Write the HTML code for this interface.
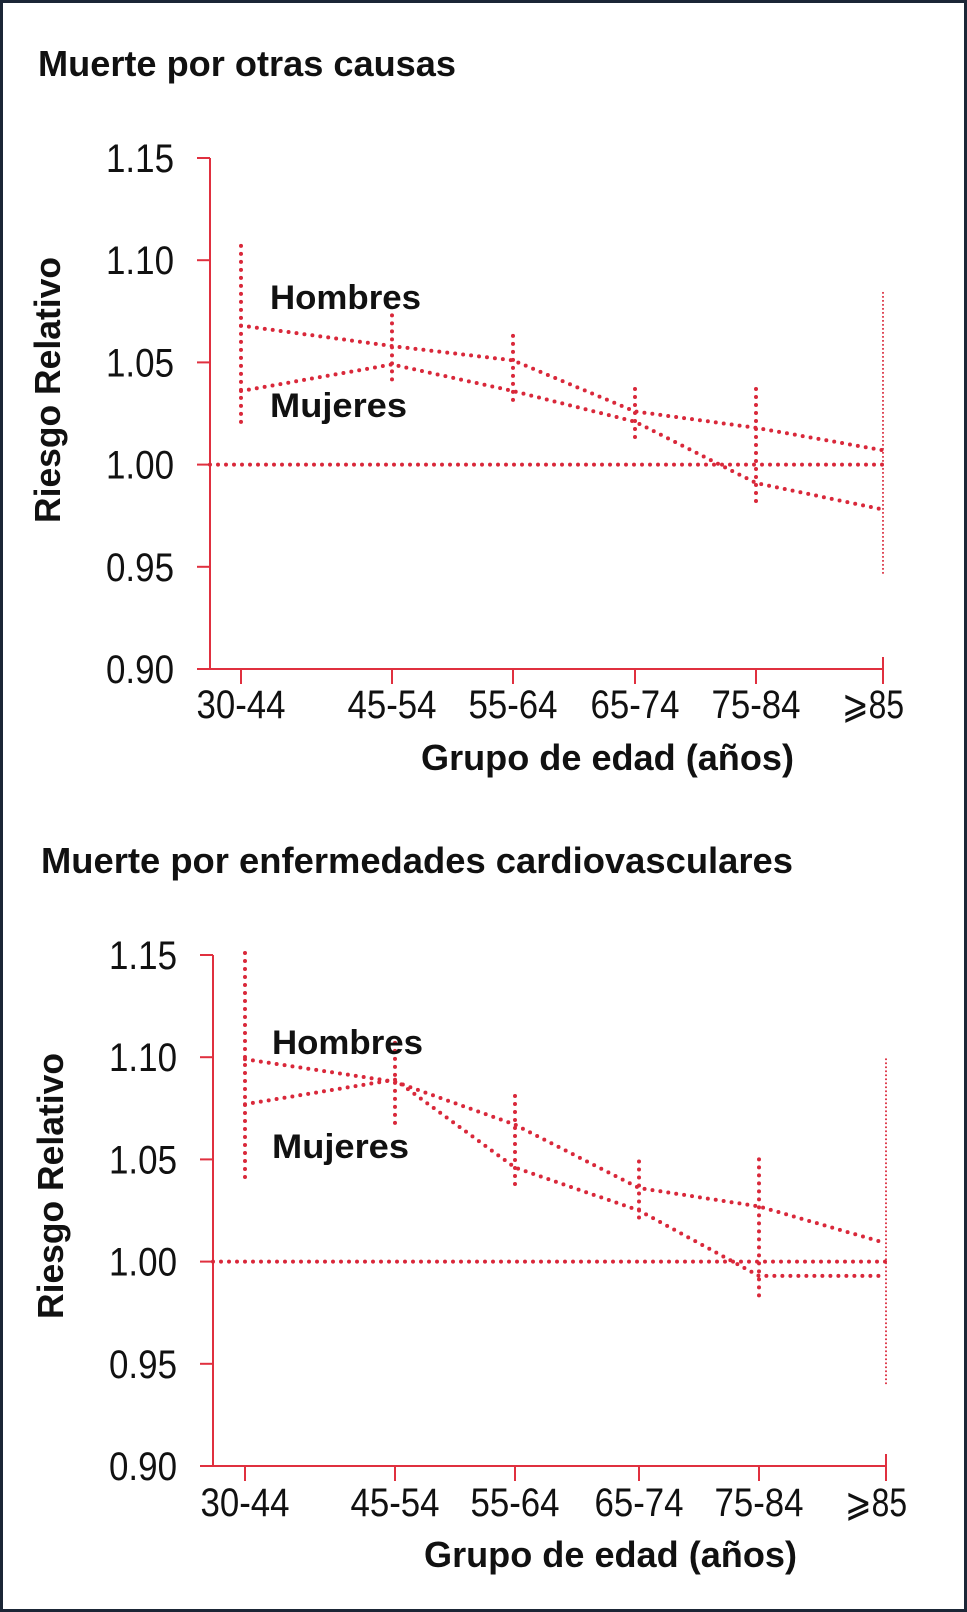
<!DOCTYPE html>
<html><head><meta charset="utf-8"><style>
html,body{margin:0;padding:0;background:#fff;}
svg{display:block;}
text{font-family:"Liberation Sans",sans-serif;fill:#111;}
.t{font-weight:bold;font-size:36px;}
.tick{font-size:40px;}
.lab{font-weight:bold;font-size:34px;}
</style></head><body>
<svg id="fig" width="967" height="1612" viewBox="0 0 967 1612" xmlns="http://www.w3.org/2000/svg">
<rect x="1.5" y="1.5" width="964" height="1609" fill="#fff" stroke="#1b2636" stroke-width="3"/>
</svg>
<script>
var categories = ["30-44","45-54","55-64","65-74","75-84","\u2a7e85"];
var yTicks = [0.90,0.95,1.00,1.05,1.10,1.15];
var yTickLabels = ["0.90","0.95","1.00","1.05","1.10","1.15"];
var topTitle = "Muerte por otras causas";
var topHombres = [1.068,1.058,1.051,1.026,1.018,1.007];
var topMujeres = [1.036,1.049,1.036,1.021,0.991,0.978];
var topCiHigh = [1.107,1.073,1.063,1.037,1.037,1.084];
var topCiLow = [1.020,1.041,1.031,1.011,0.980,0.947];
var botTitle = "Muerte por enfermedades cardiovasculares";
var botHombres = [1.099,1.088,1.067,1.036,1.027,1.009];
var botMujeres = [1.077,1.089,1.046,1.025,0.993,0.993];
var botCiHigh = [1.151,1.107,1.081,1.049,1.050,1.099];
var botCiLow = [1.041,1.065,1.037,1.018,0.983,0.939];

var NS="http://www.w3.org/2000/svg";
var svg=document.getElementById('fig');
var RED="#d9283a";
function mk(tag,attrs,parent){var e=document.createElementNS(NS,tag);for(var k in attrs)e.setAttribute(k,attrs[k]);(parent||svg).appendChild(e);return e;}

function panel(cfg,hom,muj,hi,lo,title){
  var g=mk('g',{});
  
  
  function y(v){return cfg.y090-(v-0.90)/0.25*(cfg.y090-cfg.y115);}
  function x(i){return cfg.xs[i];}
  var tt=mk('text',{x:cfg.titleX,y:cfg.titleY,'class':'t',textLength:cfg.titleW,lengthAdjust:'spacingAndGlyphs'},g);
  tt.textContent=title;
  
  
  var ya=mk('line',{x1:cfg.ax,y1:y(1.15),x2:cfg.ax,y2:y(0.90),stroke:"#e0303f",'stroke-width':2},g);
  
  
  var xa=mk('line',{x1:cfg.ax-13,y1:y(0.90),x2:x(5),y2:y(0.90),stroke:"#e0303f",'stroke-width':2},g);
  
  
  for(var i=0;i<yTicks.length;i++){
    var yy=y(yTicks[i]);
    var tk=mk('line',{x1:cfg.ax-13,y1:yy,x2:cfg.ax,y2:yy,stroke:"#e0303f",'stroke-width':2},g);
    
    
    var tl=mk('text',{x:cfg.ax-36,y:yy+14,'class':'tick','text-anchor':'end',textLength:68,lengthAdjust:'spacingAndGlyphs'},g);
    tl.textContent=yTickLabels[i];
    
    
  }
  for(var j=0;j<categories.length;j++){
    var xt=mk('line',{x1:x(j),y1:y(0.90)-(j==5?12:0),x2:x(j),y2:y(0.90)+15,stroke:"#e0303f",'stroke-width':2},g);
    
    
    var xl=mk('text',{x:x(j)-(j==5?10:0),y:cfg.xlabY,'class':'tick','text-anchor':'middle',textLength:j==5?62:89,lengthAdjust:'spacingAndGlyphs'},g);
    xl.textContent=categories[j];
    
    
  }
  var xtt=mk('text',{x:cfg.xtX,y:cfg.xtY,'class':'t',textLength:373,lengthAdjust:'spacingAndGlyphs'},g);
  xtt.textContent="Grupo de edad (años)";
  
  
  var ytt=mk('text',{x:0,y:0,'class':'t','text-anchor':'middle',textLength:266,lengthAdjust:'spacingAndGlyphs',transform:'translate('+(cfg.ytX)+','+cfg.ytY+') rotate(-90)'},g);
  ytt.textContent="Riesgo Relativo";
  
  
  var ref=mk('line',{x1:cfg.ax,y1:y(1.0),x2:x(5),y2:y(1.0),stroke:RED,'stroke-width':4,'stroke-linecap':'round','stroke-dasharray':'0 8'},g);
  
  
  for(var k=0;k<categories.length;k++){
    var last=(k==5);
    var ci=mk('line',{x1:x(k),y1:y(hi[k]),x2:x(k),y2:y(lo[k]),stroke:RED,'stroke-width':last?2:4,'stroke-linecap':'round','stroke-dasharray':last?'0 4':'0 8'},g);
    
    
  }
  function series(vals,name){
    var pts=vals.map(function(v,i){return x(i)+','+y(v);}).join(' ');
    var pl=mk('polyline',{points:pts,fill:'none',stroke:RED,'stroke-width':4,'stroke-linecap':'round','stroke-dasharray':'0 8'},g);
    
    
  }
  series(hom,'hombres-line');
  series(muj,'mujeres-line');
  var lh=mk('text',{x:cfg.labX,y:cfg.homY,'class':'lab',textLength:151,lengthAdjust:'spacingAndGlyphs'},g);
  lh.textContent="Hombres";
  
  
  var lm=mk('text',{x:cfg.labX,y:cfg.mujY,'class':'lab',textLength:137,lengthAdjust:'spacingAndGlyphs'},g);
  lm.textContent="Mujeres";
  
  
}

panel({name:'top-chart',y090:669,y115:158,ax:210,xs:[241,392,513,635,756,883],
  titleX:38,titleY:76,titleW:418,xlabY:718,xtX:421,xtY:770,ytX:60,ytY:390,labX:270,homY:309,mujY:417},
  topHombres,topMujeres,topCiHigh,topCiLow,topTitle);
panel({name:'bottom-chart',y090:1466,y115:955,ax:213,xs:[245,395,515,639,759,886],
  titleX:41,titleY:873,titleW:752,xlabY:1516,xtX:424,xtY:1567,ytX:63,ytY:1186,labX:272,homY:1054,mujY:1158},
  botHombres,botMujeres,botCiHigh,botCiLow,botTitle);
</script>
</body></html>
